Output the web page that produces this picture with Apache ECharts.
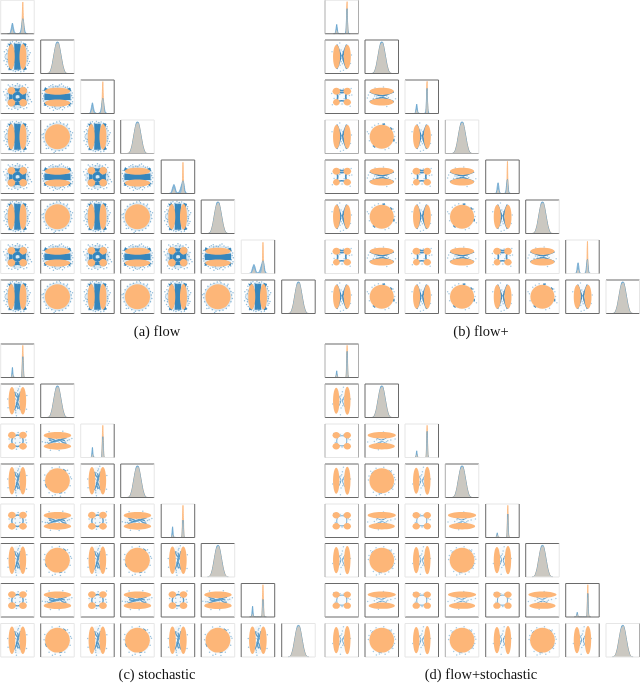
<!DOCTYPE html>
<html><head><meta charset="utf-8">
<script src="https://cdn.jsdelivr.net/npm/echarts@6/dist/echarts.min.js"></script>
<style>html,body{margin:0;padding:0;background:#fff}#c{width:640px;height:684px;filter:blur(.5px)}</style>
</head><body><div id="c"></div>
<script>
// ---------- values (cell coordinates run -1..1) ----------
const captions = ['(a) flow', '(b) flow+', '(c) stochastic', '(d) flow+stochastic'];

// orange sample lobes: [cx, cy, rx, ry]
const orangeFlowV = [[-.37,0,.21,.76],[.33,0,.21,.76]];
const orangeFlowQ = [[-.36,.36,.23,.22],[.34,.36,.23,.22],[-.36,-.36,.23,.22],[.34,-.36,.23,.22]];
const orangeFlowC = [[0,0,.75,.75]];
const orangePlusV = [[-.31,0,.21,.72],[.33,0,.21,.72]];
const orangePlusQ = [[-.32,.33,.23,.21],[.33,.33,.23,.21],[-.32,-.33,.2,.19],[.33,-.33,.22,.19]];
const orangePlusC = [[0,0,.72,.72]];
const orangeStochV = [[-.33,0,.2,.82],[.32,0,.2,.82]];
const orangeStochQ = [[-.33,.33,.23,.2],[.33,.33,.23,.2],[-.33,-.33,.23,.2],[.33,-.33,.23,.2]];
const orangeStochC = [[0,0,.74,.74]];
const orangeBothV = [[-.33,0,.19,.78],[.33,0,.19,.84]];
const orangeBothQ = [[-.33,.33,.22,.19],[.33,.33,.22,.19],[-.33,-.33,.22,.19],[.33,-.33,.22,.19]];
const orangeBothC = [[0,0,.74,.74]];

// faint blue haze beneath the samples: [cx, cy, rx, ry]
const hazeFlowV = [[0,0,.68,.86]];
const hazeFlowQ = [[0,0,.72,.72]];
const hazeFlowC = [[0,0,.85,.85]];
const hazePlusV = [[0,0,.4,.74]];
const hazePlusQ = [[0,0,.5,.5]];
const hazePlusC = [[0,0,.78,.78]];
const hazeStochV = [[0,0,.46,.84]];
const hazeStochQ = [[0,0,.52,.52]];
const hazeStochC = [[0,0,.8,.8]];
const hazeBothV = [[0,0,.4,.78]];
const hazeBothQ = [[0,0,.46,.46]];
const hazeBothC = [[0,0,.8,.8]];

// dense blue curves ('-' breaks a curve)
const B = ['-','-'];
const curveFlowV = [[-.46,.78],[-.3,.4],[-.2,0],[-.3,-.4],[-.46,-.78],B,[.46,.78],[.3,.4],[.2,0],[.3,-.4],[.46,-.78],B,[-.1,.78],[-.08,0],[-.1,-.78],B,[.1,.78],[.08,0],[.1,-.78]];
const curveFlowQ = [[-.2,.12],[0,.2],[.2,.12],[.22,-.1],[0,-.2],[-.2,-.12],[-.2,.12],B,[-.5,.5],[-.14,.14],B,[.5,.5],[.14,.14],B,[-.5,-.5],[-.14,-.14],B,[.5,-.5],[.14,-.14],B,[-.3,.44],[0,.4],[.3,.44],B,[.44,.3],[.4,0],[.44,-.3],B,[.3,-.44],[0,-.4],[-.3,-.44],B,[-.44,-.3],[-.4,0],[-.44,.3]];
const curveFlowC = [];
const curvePlusV = [[-.3,.72],[-.15,.35],[-.06,.05],[-.15,-.35],[-.3,-.72],B,[.3,.72],[.15,.35],[.06,.05],[.15,-.35],[.3,-.72]];
const curvePlusQ = [[-.3,.3],[0,.24],[.3,.3],[.24,0],[.3,-.3],[0,-.24],[-.3,-.3],[-.24,0],[-.3,.3],B,[-.34,.42],[0,.36],[.34,.42]];
const curvePlusC = [[.04,.74],[.2,.76],B,[.72,-.12],[.72,-.28],B,[-.52,-.52],[-.38,-.64],B,[.5,.54],[.62,.42]];
const curveStochV = [[-.18,.54],[-.1,.32],[.05,.1],[-.08,-.3],[-.18,-.56],B,[.18,.54],[.12,.32],[-.02,.02],[.1,-.32],[.18,-.56],B,[0,.45],[.08,.1],[-.06,-.15],[.04,-.5]];
const curveStochQ = [[-.26,.24],[0,.34],[.26,.24],[.34,0],[.26,-.24],[0,-.34],[-.26,-.24],[-.34,0],[-.26,.24]];
const curveStochC = [[.34,.68],[.52,.56],B,[-.72,-.2],[-.64,-.4],B,[.1,-.74],[.28,-.7]];
const curveBothV = [[-.2,.34],[-.1,.16],[-.05,.02],[-.1,-.16],[-.2,-.36],B,[.2,.32],[.1,.16],[.05,-.02],[.1,-.18],[.2,-.38]];
const curveBothQ = [[-.24,.24],[0,.3],[.24,.24],[.3,0],[.24,-.24],[0,-.3],[-.24,-.24],[-.3,0],[-.24,.24]];
const curveBothC = [[-.62,.42],[-.5,.56],B,[.56,-.5],[.7,-.28],B,[-.2,-.72],[.02,-.76],B,[.42,.62],[.58,.5]];

// scattered blue outliers
const dotsFlowV = [[-.72,.1],[-.66,.42],[-.63,-.3],[-.7,-.12],[-.6,.62],[-.58,-.58],[-.78,.3],[-.64,.18],[-.68,-.46],[-.55,.76],[-.5,-.78],[-.42,.86],[-.3,.9],[-.18,.8],[-.06,.92],[.08,.85],[.22,.88],[.35,.8],[.48,.76],[.58,.6],[.64,.36],[.7,.12],[.62,-.1],[.72,-.28],[.6,-.5],[.52,-.72],[.38,-.86],[.2,-.9],[.05,-.82],[-.12,-.88],[-.26,-.84],[-.74,-.02],[.76,.24],[.66,-.4],[-.8,-.24],[.56,.48],[-.56,.34],[-.6,-.16],[.6,.02],[.58,-.26]];
const dotsFlowQ = [[-.75,.1],[-.7,-.2],[-.68,.45],[-.62,-.55],[-.55,.7],[-.45,.62],[-.3,.72],[-.12,.66],[0,.78],[.14,.7],[.3,.64],[.48,.72],[.62,.55],[.72,.25],[.66,.02],[.76,-.16],[.68,-.42],[.55,-.66],[.38,-.72],[.18,-.62],[.02,-.76],[-.15,-.68],[-.34,-.75],[-.52,-.7],[-.6,.18],[-.58,-.08],[.58,.12],[.6,-.2],[-.82,.3],[.84,-.3],[.1,.6],[-.2,-.58]];
const dotsFlowC = [[.82,.1],[.78,.32],[.7,.5],[.56,.66],[.38,.76],[.18,.84],[-.04,.88],[-.24,.8],[-.44,.74],[-.6,.62],[-.74,.42],[-.84,.18],[-.86,-.06],[-.8,-.3],[-.68,-.5],[-.54,-.68],[-.34,-.78],[-.12,-.86],[.1,-.84],[.3,-.8],[.5,-.7],[.66,-.54],[.78,-.3],[.86,-.1],[.9,.24],[-.92,.12],[.6,.74],[-.66,-.7],[.12,.94],[-.2,-.94]];
const dotsPlusV = [[-.04,.4],[.05,.3],[-.1,.2],[.1,.14],[0,.08],[-.06,-.1],[.08,-.2],[-.02,-.3],[.04,-.42],[-.1,-.5],[.58,.1],[-.58,.3],[-.12,.82],[.1,-.8],[-.08,-.86],[.52,-.4]];
const dotsPlusQ = [[-.1,.44],[.1,.46],[.46,.08],[-.46,-.1],[.02,-.44],[.56,.5],[-.56,-.48],[.5,-.56],[-.12,.14],[.14,-.12],[.6,.1],[-.6,.2]];
const dotsPlusC = [[.74,.3],[.68,.46],[-.78,.18],[-.74,-.24],[-.2,.78],[.42,-.68],[.2,-.78],[.78,.02],[-.58,.56],[-.42,.68],[.86,-.36],[-.86,.3]];
const dotsStochV = [[.02,.6],[-.08,.48],[.1,.24],[-.12,.1],[.14,-.06],[-.04,-.22],[.08,-.44],[-.1,-.6],[.56,.32],[-.58,.1],[.54,-.5],[-.56,-.42],[.14,.86],[-.06,-.9],[.06,.7],[-.1,-.72]];
const dotsStochQ = [[-.14,.12],[.16,.16],[-.12,-.14],[.14,-.1],[.5,.04],[-.5,.1],[.04,.5],[-.06,-.5],[.54,-.12],[.54,.54]];
const dotsStochC = [[.78,.22],[.7,.44],[-.76,.34],[-.8,.02],[-.32,.78],[.12,.82],[-.14,-.84],[.44,-.72],[.76,-.3],[-.5,-.72],[.84,.12],[-.3,-.9],[.18,-.92],[.6,.62]];
const dotsBothV = [[0,.36],[-.06,.28],[.08,.08],[-.1,-.06],[.06,-.3],[-.04,-.44],[.04,.54],[.52,.1],[-.54,-.2],[.1,.8],[-.08,-.84]];
const dotsBothQ = [[-.1,.38],[.14,.36],[.38,.12],[-.38,-.12],[.02,-.38],[.44,-.44],[-.48,.44],[.5,.06]];
const dotsBothC = [[.76,.2],[.72,.38],[-.76,.28],[-.8,.04],[-.34,.74],[.12,.8],[-.14,-.82],[.42,-.7],[.76,-.2],[-.5,-.68],[.82,.06],[-.32,-.88],[.2,-.84],[.58,.6],[-.66,.56],[.66,-.5]];

// diagonal histograms: shared x with blue and orange heights
const histGaussX = [-.62,-.52,-.42,-.32,-.22,-.12,-.04,.04,.12,.22,.32,.42,.52,.62];
const histGaussBlue = [0,.01,.07,.24,.52,.8,.94,.94,.8,.52,.24,.07,.01,0];
const histGaussOrange = [0,.01,.08,.26,.54,.8,.9,.92,.8,.52,.26,.08,.01,0];

const flowEarlyX = [-.6,-.48,-.42,-.36,-.3,-.24,-.18,-.1,0,.1,.18,.24,.28,.32,.36,.42,.48,.6];
const flowEarlyBlue = [0,0,.05,.18,.32,.18,.05,.01,0,.01,.06,.2,.36,.45,.36,.14,.03,0];
const flowEarlyOrange = [0,0,.01,.06,.15,.05,.01,0,0,0,.01,.1,.45,.95,.42,.05,0,0];
const flowLateX = [-.55,-.42,-.36,-.3,-.24,-.18,-.12,-.04,.04,.12,.18,.24,.27,.3,.33,.36,.42,.5,.6];
const flowLateBlue = [0,.02,.1,.2,.27,.2,.08,.02,.03,.1,.2,.3,.35,.38,.34,.28,.08,.01,0];
const flowLateOrange = [0,0,.02,.08,.15,.08,.01,0,0,0,.02,.12,.4,.93,.4,.12,.02,0,0];

const plusEarlyX = [-.5,-.42,-.38,-.34,-.3,-.26,-.22,-.1,.1,.22,.26,.28,.3,.32,.34,.38,.42,.5];
const plusEarlyBlue = [0,0,.04,.16,.28,.14,.02,0,0,.02,.18,.4,.7,.75,.4,.08,.01,0];
const plusEarlyOrange = [0,0,.02,.07,.12,.06,.01,0,0,.01,.06,.3,.85,.96,.45,.04,0,0];
const plusLateX = [-.5,-.38,-.34,-.3,-.26,-.22,-.18,-.1,.1,.18,.22,.26,.28,.3,.32,.36,.4,.5];
const plusLateBlue = [0,.01,.08,.24,.32,.22,.06,0,0,.03,.14,.32,.4,.42,.34,.12,.02,0];
const plusLateOrange = [0,0,.03,.1,.13,.09,.02,0,0,.01,.05,.2,.7,.96,.5,.05,.01,0];

const stochEarlyX = [-.5,-.4,-.36,-.33,-.3,-.27,-.24,-.1,.1,.22,.26,.29,.32,.35,.38,.42,.5];
const stochEarlyBlue = [0,0,.03,.16,.3,.14,.02,0,0,0,.06,.34,.62,.34,.06,0,0];
const stochEarlyOrange = [0,0,.02,.06,.11,.05,.01,0,0,0,.08,.6,.96,.55,.07,0,0];
const stochLateX = [-.5,-.42,-.38,-.35,-.32,-.29,-.26,-.1,.1,.2,.24,.27,.3,.33,.36,.4,.5];
const stochLateBlue = [0,0,.03,.18,.32,.16,.02,0,0,0,.05,.3,.52,.3,.05,0,0];
const stochLateOrange = [0,0,.02,.06,.1,.05,.01,0,0,0,.08,.58,.96,.55,.07,0,0];

const bothEarlyX = [-.5,-.4,-.36,-.33,-.3,-.27,-.24,-.1,.1,.24,.27,.3,.32,.34,.37,.42,.5];
const bothEarlyBlue = [0,0,.02,.1,.2,.09,.01,0,0,0,.08,.5,.78,.5,.08,0,0];
const bothEarlyOrange = [0,0,.02,.06,.1,.05,.01,0,0,0,.1,.72,.96,.7,.1,0,0];
const bothLateX = [-.5,-.4,-.37,-.34,-.31,-.28,-.25,-.1,.1,.24,.27,.3,.32,.34,.37,.42,.5];
const bothLateBlue = [0,0,.02,.08,.14,.07,.01,0,0,0,.07,.44,.7,.44,.07,0,0];
const bothLateOrange = [0,0,.02,.05,.09,.05,.01,0,0,0,.1,.72,.96,.7,.1,0,0];

// ---------- layout and frame shades ----------
const CELL = 33.5, CELLS = 8;
const colsLeft = [.7,40.7,80.7,120.7,161.2,201.2,241.2,281.7];
const colsRight = [325,365,405,445.3,485.7,525.7,565.7,606];
const rowsTop = [.3,40,80,120,160,200,240,280];
const rowsBottom = [344,384,424,464,504,543.4,583.4,623.4];
const shades = ['#e6e6e6','#adadad','#6a6a6a'];
const framesTopA = [0,2,2,0,2,2,0,2], framesBotA = [2,2,2,1,2,2,0,2];
const framesTopC = [2,2,0,2,0,2,2,0], framesBotC = [2,2,0,2,2,0,2,0];
const sidesLeftA = [0,2,0,2,2,2,0,2], sidesRightA = [0,0,2,0,2,0,2,2];
const sidesLeftB = [1,2,0,1,2,2,2,0], sidesRightB = [1,2,2,0,2,0,2,0];
const sidesLeftC = [0,2,0,2,2,2,2,2], sidesRightC = [0,0,2,0,2,0,2,0];
const sidesLeftD = [1,2,0,1,2,2,2,0], sidesRightD = [1,2,2,0,2,0,2,1];

const panels = [
 {cap:captions[0],cx:157,cy:332,xs:colsLeft,ys:rowsTop,t:framesTopA,b:framesBotA,l:sidesLeftA,r:sidesRightA,width:3.2,curveOp:.88,hazeOp:.16,dotOp:.5,
  orange:{V:orangeFlowV,Q:orangeFlowQ,C:orangeFlowC},haze:{V:hazeFlowV,Q:hazeFlowQ,C:hazeFlowC},curve:{V:curveFlowV,Q:curveFlowQ,C:curveFlowC},dots:{V:dotsFlowV,Q:dotsFlowQ,C:dotsFlowC},
  hist:{early:[flowEarlyX,flowEarlyBlue,flowEarlyOrange],late:[flowLateX,flowLateBlue,flowLateOrange]}},
 {cap:captions[1],cx:481,cy:332,xs:colsRight,ys:rowsTop,t:framesTopA,b:framesBotA,l:sidesLeftB,r:sidesRightB,width:1.7,curveOp:.8,hazeOp:.03,dotOp:.4,
  orange:{V:orangePlusV,Q:orangePlusQ,C:orangePlusC},haze:{V:hazePlusV,Q:hazePlusQ,C:hazePlusC},curve:{V:curvePlusV,Q:curvePlusQ,C:curvePlusC},dots:{V:dotsPlusV,Q:dotsPlusQ,C:dotsPlusC},
  hist:{early:[plusEarlyX,plusEarlyBlue,plusEarlyOrange],late:[plusLateX,plusLateBlue,plusLateOrange]}},
 {cap:captions[2],cx:157,cy:675,xs:colsLeft,ys:rowsBottom,t:framesTopC,b:framesBotC,l:sidesLeftC,r:sidesRightC,width:1.4,curveOp:.7,hazeOp:.05,dotOp:.45,
  orange:{V:orangeStochV,Q:orangeStochQ,C:orangeStochC},haze:{V:hazeStochV,Q:hazeStochQ,C:hazeStochC},curve:{V:curveStochV,Q:curveStochQ,C:curveStochC},dots:{V:dotsStochV,Q:dotsStochQ,C:dotsStochC},
  hist:{early:[stochEarlyX,stochEarlyBlue,stochEarlyOrange],late:[stochLateX,stochLateBlue,stochLateOrange]}},
 {cap:captions[3],cx:481,cy:675,xs:colsRight,ys:rowsBottom,t:framesTopC,b:framesBotC,l:sidesLeftD,r:sidesRightD,width:1,curveOp:.6,hazeOp:.03,dotOp:.4,
  orange:{V:orangeBothV,Q:orangeBothQ,C:orangeBothC},haze:{V:hazeBothV,Q:hazeBothQ,C:hazeBothC},curve:{V:curveBothV,Q:curveBothQ,C:curveBothC},dots:{V:dotsBothV,Q:dotsBothQ,C:dotsBothC},
  hist:{early:[bothEarlyX,bothEarlyBlue,bothEarlyOrange],late:[bothLateX,bothLateBlue,bothLateOrange]}}
];

// ---------- building the option ----------
const BLUE = '#1f77b4', ORANGE = '#fdb678', BLUE_AREA = '#8fbbd9', ORANGE_AREA = '#fdc494', GREY = '#cbc8c1';
const grid = [], xAxis = [], yAxis = [], series = [], graphic = [];
const swap = p => p[0] === '-' ? p : [p[1], p[0]];
const swapLobe = l => [l[1], l[0], l[3], l[2]];

function ellipses(i, data, color, opacity, z) {
  return {type:'custom', xAxisIndex:i, yAxisIndex:i, data, z, silent:true, animation:false, clip:true,
    encode:{x:0,y:1},
    renderItem(p, api) {
      const c = api.coord([api.value(0), api.value(1)]);
      const s = api.size([api.value(2), api.value(3)]);
      return {type:'ellipse', shape:{cx:c[0], cy:c[1], rx:s[0], ry:s[1]}, style:{fill:color, opacity}};
    }};
}
function area(i, xs, ys, color, edge, width, z) {
  return {type:'line', xAxisIndex:i, yAxisIndex:i, data:xs.map((x,k)=>[x,ys[k]]), showSymbol:false, z, silent:true, animation:false,
    smooth:.2, lineStyle:{color:edge, width}, itemStyle:{color:edge}, areaStyle:{color, opacity:1}};
}
function frame(x, y, w, h, color, z) {
  return {type:'rect', silent:true, z:z, shape:{x, y, width:w, height:h}, style:{fill:color}};
}

panels.forEach(P => {
  for (let r = 0; r < CELLS; r++) for (let c = 0; c <= r; c++) {
    const i = grid.length, x0 = P.xs[c], y0 = P.ys[r];
    grid.push({left:x0, top:y0, width:CELL, height:CELL, containLabel:false, show:false});
    xAxis.push({gridIndex:i, type:'value', min:-1, max:1, show:false});
    if (r === c) {
      yAxis.push({gridIndex:i, type:'value', min:0, max:1, show:false});
      let X = histGaussX, Bl = histGaussBlue, Or = histGaussOrange;
      if (r % 2 === 0) [X, Bl, Or] = r < 4 ? P.hist.early : P.hist.late;
      const overlap = Bl.map((v,k)=>Math.min(v, Or[k]));
      series.push(area(i, X, Or, ORANGE_AREA, '#fdb678', .8, 2));
      series.push(area(i, X, Bl, BLUE_AREA, '#5e9fcb', .8, 3));
      series.push(area(i, X, overlap, GREY, GREY, 0, 4));
    } else {
      yAxis.push({gridIndex:i, type:'value', min:-1, max:1, show:false});
      const xOdd = c % 2 === 1, yOdd = r % 2 === 1;
      const kind = xOdd && yOdd ? 'C' : (!xOdd && !yOdd ? 'Q' : 'V');
      const H = xOdd && !yOdd;
      const tP = d => H ? d.map(swap) : d;
      const tL = d => H ? d.map(swapLobe) : d;
      series.push(ellipses(i, tL(P.haze[kind]), BLUE, P.hazeOp, 1));
      series.push({type:'scatter', xAxisIndex:i, yAxisIndex:i, data:tP(P.dots[kind]), symbolSize:1.5, z:2, silent:true, animation:false,
        itemStyle:{color:BLUE, opacity:P.dotOp}});
      if (P.curve[kind].length) series.push({type:'line', xAxisIndex:i, yAxisIndex:i, data:tP(P.curve[kind]), showSymbol:false, z:3, silent:true, animation:false,
        connectNulls:false, smooth:.3, lineStyle:{color:BLUE, width:P.width, opacity:P.curveOp}});
      series.push(ellipses(i, tL(P.orange[kind]), ORANGE, 1, 4));
    }
    const S = shades;
    graphic.push(frame(x0, y0-.5, CELL, 1, S[P.t[r]], 10));
    graphic.push(frame(x0, y0+CELL-.5, CELL, 1, S[P.b[r]], 10));
    graphic.push(frame(x0-.5, y0, 1, CELL, S[P.l[c]], 10));
    graphic.push(frame(x0+CELL-.5, y0, 1, CELL, S[P.r[c]], 10));
  }
  graphic.push({type:'text', silent:true, x:P.cx, y:P.cy, style:{text:P.cap, fill:'#111', font:'14.5px "Liberation Serif"', textAlign:'center', textVerticalAlign:'middle'}});
});

const chart = echarts.init(document.getElementById('c'), null, {renderer:'canvas'});
chart.setOption({animation:false, backgroundColor:'#fff', grid, xAxis, yAxis, series, graphic, tooltip:{show:false}});
</script></body></html>
